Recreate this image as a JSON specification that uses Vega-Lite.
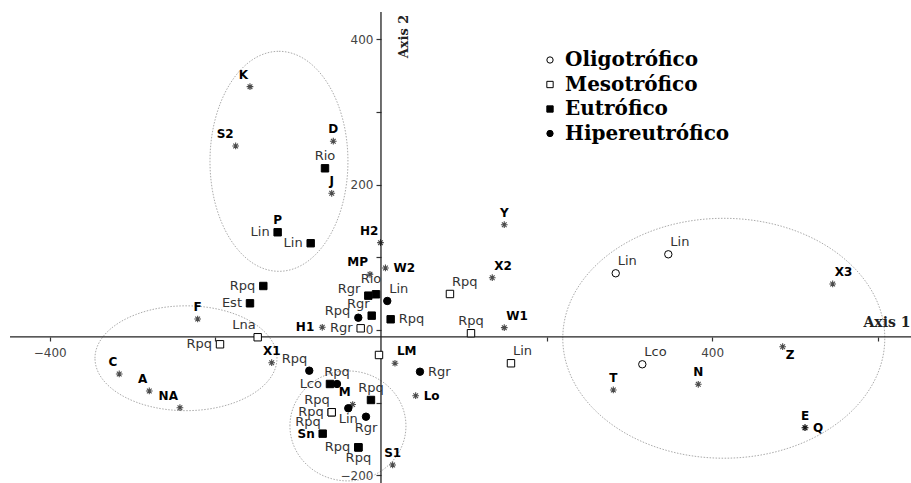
{
"$schema":"https://vega.github.io/schema/vega-lite/v6.json",
"width":911,"height":483,"padding":0,"autosize":{"type":"none"},
"background":"white",
"config":{"view":{"stroke":null}},
"datasets":{
"ell":[{"id":"A","x":-123.2,"y":232.0},{"id":"B","x":-235.5,"y":-38.9},{"id":"C","x":-39.9,"y":-132.0},{"id":"D","x":414.0,"y":-11.4}],
"pts":[
{"kind":"sp","group":"","name":"K","x":-158.2,"y":334.7,"side":"tl"},
{"kind":"sp","group":"","name":"S2","x":-175.5,"y":253.1,"side":"tl"},
{"kind":"sp","group":"","name":"D","x":-57.6,"y":259.7,"side":"t"},
{"kind":"sp","group":"","name":"J","x":-59.5,"y":188.0,"side":"t"},
{"kind":"sp","group":"","name":"P","x":-124.8,"y":134.4,"side":"t"},
{"kind":"sp","group":"","name":"H2","x":-0.6,"y":120.1,"side":"tl"},
{"kind":"sp","group":"","name":"MP","x":-13.3,"y":76.6,"side":"tl"},
{"kind":"sp","group":"","name":"W2","x":5.4,"y":85.3,"side":"r"},
{"kind":"sp","group":"","name":"Y","x":148.9,"y":144.8,"side":"t"},
{"kind":"sp","group":"","name":"X2","x":134.4,"y":71.9,"side":"tr"},
{"kind":"sp","group":"","name":"W1","x":148.9,"y":3.2,"side":"tr"},
{"kind":"sp","group":"","name":"H1","x":-70.9,"y":3.7,"side":"l"},
{"kind":"sp","group":"","name":"F","x":-221.4,"y":15.1,"side":"t"},
{"kind":"sp","group":"","name":"X1","x":-132.0,"y":-45.0,"side":"t"},
{"kind":"sp","group":"","name":"C","x":-316.1,"y":-60.5,"side":"tl"},
{"kind":"sp","group":"","name":"A","x":-279.8,"y":-83.9,"side":"tl"},
{"kind":"sp","group":"","name":"NA","x":-242.8,"y":-106.9,"side":"tl"},
{"kind":"sp","group":"","name":"LM","x":16.9,"y":-45.8,"side":"tr"},
{"kind":"sp","group":"","name":"Lo","x":41.9,"y":-90.4,"side":"r"},
{"kind":"sp","group":"","name":"S1","x":14.1,"y":-185.7,"side":"t"},
{"kind":"sp","group":"","name":"M","x":-34.2,"y":-102.5,"side":"tl"},
{"kind":"sp","group":"","name":"Sn","x":-70.4,"y":-142.6,"side":"l"},
{"kind":"sp","group":"","name":"T","x":280.6,"y":-82.5,"side":"t"},
{"kind":"sp","group":"","name":"N","x":383.2,"y":-74.7,"side":"t"},
{"kind":"sp","group":"","name":"Z","x":485.1,"y":-23.0,"side":"br"},
{"kind":"sp","group":"","name":"E","x":512.1,"y":-134.4,"side":"t"},
{"kind":"sp","group":"","name":"Q","x":512.1,"y":-134.4,"side":"r"},
{"kind":"sp","group":"","name":"X3","x":545.5,"y":63.3,"side":"tr"},
{"kind":"sa","group":"Oligotrófico","name":"Lin","x":283.5,"y":78.0,"side":"tr"},
{"kind":"sa","group":"Oligotrófico","name":"Lin","x":347.0,"y":104.1,"side":"tr"},
{"kind":"sa","group":"Oligotrófico","name":"Lco","x":315.6,"y":-47.2,"side":"tr"},
{"kind":"sa","group":"Mesotrófico","name":"Rpq","x":83.3,"y":49.5,"side":"tr"},
{"kind":"sa","group":"Mesotrófico","name":"Rpq","x":108.7,"y":-4.5,"side":"t"},
{"kind":"sa","group":"Mesotrófico","name":"Lin","x":157.0,"y":-45.8,"side":"tr"},
{"kind":"sa","group":"Mesotrófico","name":"Lna","x":-148.9,"y":-10.0,"side":"tl"},
{"kind":"sa","group":"Mesotrófico","name":"Rpq","x":-194.4,"y":-19.7,"side":"l"},
{"kind":"sa","group":"Mesotrófico","name":"Rgr","x":-24.5,"y":2.3,"side":"l"},
{"kind":"sa","group":"Mesotrófico","name":"","x":-2.4,"y":-34.4,"side":"none"},
{"kind":"sa","group":"Mesotrófico","name":"Rpq","x":-59.5,"y":-113.2,"side":"tl"},
{"kind":"sa","group":"Mesotrófico","name":"Rpq","x":-59.5,"y":-113.2,"side":"l"},
{"kind":"sa","group":"Eutrófico","name":"Rio","x":-67.6,"y":222.4,"side":"t"},
{"kind":"sa","group":"Eutrófico","name":"Lin","x":-124.8,"y":134.4,"side":"l"},
{"kind":"sa","group":"Eutrófico","name":"Lin","x":-84.9,"y":119.3,"side":"l"},
{"kind":"sa","group":"Eutrófico","name":"Rpq","x":-142.1,"y":60.5,"side":"l"},
{"kind":"sa","group":"Eutrófico","name":"Est","x":-158.2,"y":36.7,"side":"l"},
{"kind":"sa","group":"Eutrófico","name":"Rgr","x":-15.3,"y":47.2,"side":"ul"},
{"kind":"sa","group":"Eutrófico","name":"Rio","x":-6.0,"y":49.1,"side":"tt"},
{"kind":"sa","group":"Eutrófico","name":"Rgr","x":-11.2,"y":19.7,"side":"tl"},
{"kind":"sa","group":"Eutrófico","name":"Rpq","x":11.7,"y":14.7,"side":"r"},
{"kind":"sa","group":"Eutrófico","name":"Rpq","x":-12.1,"y":-96.3,"side":"t"},
{"kind":"sa","group":"Eutrófico","name":"Rpq","x":-70.4,"y":-142.6,"side":"tl"},
{"kind":"sa","group":"Eutrófico","name":"Rpq","x":-27.3,"y":-161.5,"side":"l"},
{"kind":"sa","group":"Eutrófico","name":"Rpq","x":-27.3,"y":-161.5,"side":"b"},
{"kind":"sa","group":"Eutrófico","name":"Lco","x":-61.6,"y":-74.3,"side":"l"},
{"kind":"sa","group":"Hipereutrófico","name":"Lin","x":7.6,"y":39.9,"side":"tr"},
{"kind":"sa","group":"Hipereutrófico","name":"Rpq","x":-27.4,"y":16.9,"side":"ul"},
{"kind":"sa","group":"Hipereutrófico","name":"Rpq","x":-86.6,"y":-56.0,"side":"tl"},
{"kind":"sa","group":"Hipereutrófico","name":"Rpq","x":-53.1,"y":-74.3,"side":"t"},
{"kind":"sa","group":"Hipereutrófico","name":"Lin","x":-39.5,"y":-107.7,"side":"b"},
{"kind":"sa","group":"Hipereutrófico","name":"Rgr","x":-18.1,"y":-119.3,"side":"b"},
{"kind":"sa","group":"Hipereutrófico","name":"Rgr","x":47.1,"y":-57.4,"side":"r"}
]},
"data":{"name":"pts"},
"layer":[
{"data":{"name":"ell"},"transform":[{"filter":"datum.id==='A'"}],"mark":{"type":"point","filled":false,"stroke":"#888","strokeWidth":1,"strokeDash":[1.5,1.5],"size":48400,"shape":"M0,-1C0.3463,-1,0.627,-0.5523,0.627,0C0.627,0.5523,0.3463,1,0,1C-0.3463,1,-0.627,0.5523,-0.627,0C-0.627,-0.5523,-0.3463,-1,0,-1Z"},
 "encoding":{
 "x":{"field":"x","type":"quantitative","scale":{"domain":[-460.1,640.1],"nice":false,"zero":false},
 "axis":{"orient":"bottom","offset":-146,"values":[-400,-200,200,400,600],"grid":false,"domain":false,"tickSize":4,"tickColor":"#333","tickWidth":1.2,
 "labelExpr":"datum.value == -400 || datum.value == 400 ? datum.label : ''","labelFont":"DejaVu Sans","labelFontSize":12,"labelColor":"#444","labelPadding":6,"labelOverlap":false,"labelFlush":false,"labelBound":false,
 "title":"Axis 1","titleX":863,"titleY":-15,"titleAlign":"left","titleBaseline":"middle","titleAngle":0,"titleFont":"DejaVu Serif","titleFontSize":14,"titleFontWeight":"bold","titleColor":"#222"}},
 "y":{"field":"y","type":"quantitative","scale":{"domain":[-210.5,453.9],"nice":false,"zero":false},
 "axis":{"orient":"left","offset":-381,"values":[-200,-100,0,100,200,300,400],"grid":false,"domain":false,"tickSize":5,"tickColor":"#333","tickWidth":1.2,
 "labelExpr":"datum.value % 200 === 0 ? datum.label : ''","labelFont":"DejaVu Sans","labelFontSize":12,"labelColor":"#444","labelPadding":3,"labelOverlap":false,"labelFlush":false,"labelBound":false,
 "title":"Axis 2","titleX":22,"titleY":36,"titleAngle":270,"titleAlign":"center","titleBaseline":"middle","titleFont":"DejaVu Serif","titleFontSize":13,"titleFontWeight":"bold","titleColor":"#222"}}
 }},
{"data":{"name":"ell"},"transform":[{"filter":"datum.id==='B'"}],"mark":{"type":"point","filled":false,"stroke":"#888","strokeWidth":1,"strokeDash":[1.5,1.5],"size":33124,"shape":"M-1,0C-1,-0.318,-0.5523,-0.576,0,-0.576C0.5523,-0.576,1,-0.318,1,0C1,0.318,0.5523,0.576,0,0.576C-0.5523,0.576,-1,0.318,-1,0Z"},"encoding":{"x":{"field":"x","type":"quantitative"},"y":{"field":"y","type":"quantitative"}}},
{"data":{"name":"ell"},"transform":[{"filter":"datum.id==='C'"}],"mark":{"type":"point","filled":false,"stroke":"#888","strokeWidth":1,"strokeDash":[1.5,1.5],"size":13456,"shape":"M-1,0C-1,-0.5236,-0.5523,-0.948,0,-0.948C0.5523,-0.948,1,-0.5236,1,0C1,0.5236,0.5523,0.948,0,0.948C-0.5523,0.948,-1,0.5236,-1,0Z"},"encoding":{"x":{"field":"x","type":"quantitative"},"y":{"field":"y","type":"quantitative"}}},
{"data":{"name":"ell"},"transform":[{"filter":"datum.id==='D'"}],"mark":{"type":"point","filled":false,"stroke":"#888","strokeWidth":1,"strokeDash":[1.5,1.5],"size":103684,"shape":"M-1,0C-1,-0.4115,-0.5523,-0.745,0,-0.745C0.5523,-0.745,1,-0.4115,1,0C1,0.4115,0.5523,0.745,0,0.745C-0.5523,0.745,-1,0.4115,-1,0Z"},"encoding":{"x":{"field":"x","type":"quantitative"},"y":{"field":"y","type":"quantitative"}}},
{"data":{"values":[{}]},"mark":{"type":"rule","color":"#222","strokeWidth":1.3},"encoding":{"x":{"datum":-448},"x2":{"datum":640.1},"y":{"datum":-9.6}}},
{"data":{"values":[{}]},"mark":{"type":"rule","color":"#222","strokeWidth":1.3},"encoding":{"x":{"datum":0},"y":{"datum":-210.5},"y2":{"datum":437.4}}},
{"transform":[{"filter":"datum.kind==='sp'"}],"mark":{"type":"point","filled":false,"stroke":"#000","strokeWidth":1.1,"size":45,"shape":"M-1,0L1,0M0,-1L0,1M-0.7,-0.7L0.7,0.7M-0.7,0.7L0.7,-0.7"},"encoding":{"x":{"field":"x","type":"quantitative"},"y":{"field":"y","type":"quantitative"}}},
{"transform":[{"filter":"datum.kind==='sa'"}],"mark":{"type":"point","filled":true,"strokeWidth":1,"size":55,"opacity":1},
 "encoding":{
 "x":{"field":"x","type":"quantitative"},"y":{"field":"y","type":"quantitative"},
 "shape":{"field":"group","type":"nominal","scale":{"domain":["Oligotrófico","Mesotrófico","Eutrófico","Hipereutrófico"],"range":["circle","square","square","circle"]},
  "legend":{"title":null,"orient":"none","legendX":540,"legendY":50,"padding":0,"labelFont":"DejaVu Serif","labelFontSize":20,"labelFontWeight":"bold","labelColor":"#000","labelLimit":400,"symbolSize":40,"symbolStrokeWidth":1,"rowPadding":4.5,"labelOffset":5}},
 "fill":{"field":"group","type":"nominal","scale":{"domain":["Oligotrófico","Mesotrófico","Eutrófico","Hipereutrófico"],"range":["#ffffff","#ffffff","#000000","#000000"]},
  "legend":{"title":null,"orient":"none","legendX":540,"legendY":50,"padding":0,"labelFont":"DejaVu Serif","labelFontSize":20,"labelFontWeight":"bold","labelColor":"#000","labelLimit":400,"symbolSize":40,"symbolStrokeWidth":1,"rowPadding":4.5,"labelOffset":5}},
 "stroke":{"field":"group","type":"nominal","scale":{"domain":["Oligotrófico","Mesotrófico","Eutrófico","Hipereutrófico"],"range":["#000000","#000000","#000000","#000000"]},
  "legend":{"title":null,"orient":"none","legendX":540,"legendY":50,"padding":0,"labelFont":"DejaVu Serif","labelFontSize":20,"labelFontWeight":"bold","labelColor":"#000","labelLimit":400,"symbolSize":40,"symbolStrokeWidth":1,"rowPadding":4.5,"labelOffset":5}}
 }},
{"transform":[{"filter":"datum.kind==='sa' && datum.side==='t'"}],"mark":{"type":"text","align":"center","baseline":"bottom","dx":0,"dy":-5,"font":"DejaVu Sans","fontSize":13,"color":"#333"},"encoding":{"x":{"field":"x","type":"quantitative"},"y":{"field":"y","type":"quantitative"},"text":{"field":"name"}}},
{"transform":[{"filter":"datum.kind==='sa' && datum.side==='tt'"}],"mark":{"type":"text","align":"center","baseline":"bottom","dx":-5,"dy":-8,"font":"DejaVu Sans","fontSize":13,"color":"#333"},"encoding":{"x":{"field":"x","type":"quantitative"},"y":{"field":"y","type":"quantitative"},"text":{"field":"name"}}},
{"transform":[{"filter":"datum.kind==='sa' && datum.side==='tl'"}],"mark":{"type":"text","align":"right","baseline":"bottom","dx":-2,"dy":-5,"font":"DejaVu Sans","fontSize":13,"color":"#333"},"encoding":{"x":{"field":"x","type":"quantitative"},"y":{"field":"y","type":"quantitative"},"text":{"field":"name"}}},
{"transform":[{"filter":"datum.kind==='sa' && datum.side==='ul'"}],"mark":{"type":"text","align":"right","baseline":"middle","dx":-8,"dy":-7,"font":"DejaVu Sans","fontSize":13,"color":"#333"},"encoding":{"x":{"field":"x","type":"quantitative"},"y":{"field":"y","type":"quantitative"},"text":{"field":"name"}}},
{"transform":[{"filter":"datum.kind==='sa' && datum.side==='tr'"}],"mark":{"type":"text","align":"left","baseline":"bottom","dx":2,"dy":-5,"font":"DejaVu Sans","fontSize":13,"color":"#333"},"encoding":{"x":{"field":"x","type":"quantitative"},"y":{"field":"y","type":"quantitative"},"text":{"field":"name"}}},
{"transform":[{"filter":"datum.kind==='sa' && datum.side==='l'"}],"mark":{"type":"text","align":"right","baseline":"middle","dx":-8,"dy":0,"font":"DejaVu Sans","fontSize":13,"color":"#333"},"encoding":{"x":{"field":"x","type":"quantitative"},"y":{"field":"y","type":"quantitative"},"text":{"field":"name"}}},
{"transform":[{"filter":"datum.kind==='sa' && datum.side==='r'"}],"mark":{"type":"text","align":"left","baseline":"middle","dx":8,"dy":0,"font":"DejaVu Sans","fontSize":13,"color":"#333"},"encoding":{"x":{"field":"x","type":"quantitative"},"y":{"field":"y","type":"quantitative"},"text":{"field":"name"}}},
{"transform":[{"filter":"datum.kind==='sa' && datum.side==='b'"}],"mark":{"type":"text","align":"center","baseline":"top","dx":0,"dy":5,"font":"DejaVu Sans","fontSize":13,"color":"#333"},"encoding":{"x":{"field":"x","type":"quantitative"},"y":{"field":"y","type":"quantitative"},"text":{"field":"name"}}},
{"transform":[{"filter":"datum.kind==='sp' && datum.side==='t'"}],"mark":{"type":"text","align":"center","baseline":"bottom","dx":0,"dy":-5,"font":"DejaVu Sans","fontSize":12,"fontWeight":"bold","color":"#000"},"encoding":{"x":{"field":"x","type":"quantitative"},"y":{"field":"y","type":"quantitative"},"text":{"field":"name"}}},
{"transform":[{"filter":"datum.kind==='sp' && datum.side==='tl'"}],"mark":{"type":"text","align":"right","baseline":"bottom","dx":-2,"dy":-5,"font":"DejaVu Sans","fontSize":12,"fontWeight":"bold","color":"#000"},"encoding":{"x":{"field":"x","type":"quantitative"},"y":{"field":"y","type":"quantitative"},"text":{"field":"name"}}},
{"transform":[{"filter":"datum.kind==='sp' && datum.side==='tr'"}],"mark":{"type":"text","align":"left","baseline":"bottom","dx":2,"dy":-5,"font":"DejaVu Sans","fontSize":12,"fontWeight":"bold","color":"#000"},"encoding":{"x":{"field":"x","type":"quantitative"},"y":{"field":"y","type":"quantitative"},"text":{"field":"name"}}},
{"transform":[{"filter":"datum.kind==='sp' && datum.side==='l'"}],"mark":{"type":"text","align":"right","baseline":"middle","dx":-8,"dy":0,"font":"DejaVu Sans","fontSize":12,"fontWeight":"bold","color":"#000"},"encoding":{"x":{"field":"x","type":"quantitative"},"y":{"field":"y","type":"quantitative"},"text":{"field":"name"}}},
{"transform":[{"filter":"datum.kind==='sp' && datum.side==='r'"}],"mark":{"type":"text","align":"left","baseline":"middle","dx":8,"dy":0,"font":"DejaVu Sans","fontSize":12,"fontWeight":"bold","color":"#000"},"encoding":{"x":{"field":"x","type":"quantitative"},"y":{"field":"y","type":"quantitative"},"text":{"field":"name"}}},
{"transform":[{"filter":"datum.kind==='sp' && datum.side==='br'"}],"mark":{"type":"text","align":"left","baseline":"top","dx":3,"dy":3,"font":"DejaVu Sans","fontSize":12,"fontWeight":"bold","color":"#000"},"encoding":{"x":{"field":"x","type":"quantitative"},"y":{"field":"y","type":"quantitative"},"text":{"field":"name"}}}
]
}
